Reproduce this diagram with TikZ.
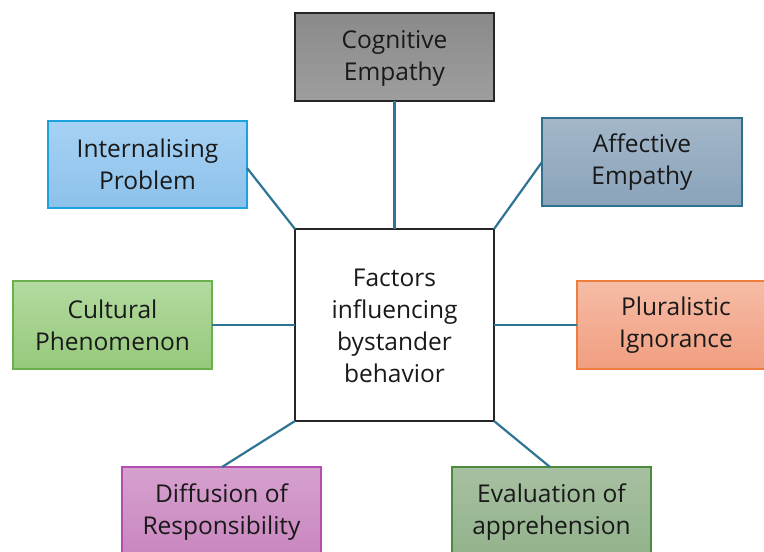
\documentclass[tikz,border=0pt]{standalone}
\usepackage{fontspec}
\setmainfont{Open Sans}
\begin{document}
\begin{tikzpicture}[x=1pt,y=-1pt,
  lbl/.style={align=center,font=\fontsize{24.5}{32}\selectfont,text=black!90},
  link/.style={draw={rgb,255:red,46;green,116;blue,148},line width=2.2pt},
  factor/.style n args={4}{shade,top color=#1,bottom color=#2,draw=#3,line width=#4}
]
\definecolor{cogT}{HTML}{8A8A8A}\definecolor{cogB}{HTML}{9E9E9E}\definecolor{cogD}{HTML}{262626}
\definecolor{intT}{HTML}{A6D2F4}\definecolor{intB}{HTML}{8DC1EA}\definecolor{intD}{HTML}{1BA3E0}
\definecolor{affT}{HTML}{A3B7C9}\definecolor{affB}{HTML}{8AA3BA}\definecolor{affD}{HTML}{2F6F8F}
\definecolor{culT}{HTML}{B3DBA0}\definecolor{culB}{HTML}{96C97C}\definecolor{culD}{HTML}{6AB04C}
\definecolor{pluT}{HTML}{F6BCA6}\definecolor{pluB}{HTML}{F19E80}\definecolor{pluD}{HTML}{EE7D3E}
\definecolor{difT}{HTML}{D6A0CE}\definecolor{difB}{HTML}{C783BD}\definecolor{difD}{HTML}{B04FAE}
\definecolor{evaT}{HTML}{A7C0A1}\definecolor{evaB}{HTML}{8FB088}\definecolor{evaD}{HTML}{4C8A3D}
\useasboundingbox (0,0) rectangle (764,552);

% factor boxes
\draw[factor={cogT}{cogB}{cogD}{1.8pt}] (295,13) rectangle (494,101);
\draw[factor={intT}{intB}{intD}{1.6pt}] (48,121) rectangle (247,208);
\draw[factor={affT}{affB}{affD}{1.6pt}] (542,118) rectangle (742,206);
\draw[factor={culT}{culB}{culD}{1.6pt}] (13,281) rectangle (212,369);
\draw[factor={pluT}{pluB}{pluD}{1.6pt}] (577,281) rectangle (766,369);
\draw[factor={difT}{difB}{difD}{1.6pt}] (122,467) rectangle (321,570);
\draw[factor={evaT}{evaB}{evaD}{1.6pt}] (452,467) rectangle (651,570);

\node[lbl] (cog) at (394.5,58) {Cognitive\\Empathy};
\node[lbl] (int) at (147.5,164) {Internalising\\Problem};
\node[lbl] (aff) at (642,162) {Affective\\Empathy};
\node[lbl] (cul) at (112.5,325) {Cultural\\Phenomenon};
\node[lbl] (plu) at (676,325) {Pluralistic\\Ignorance};
\node[lbl] (dif) at (221.5,512) {Diffusion of\\Responsibility};
\node[lbl] (eva) at (551.5,512) {Evaluation of\\apprehension};

% anchor points on the box edges
\coordinate (cogS) at (394.5,101);
\coordinate (intE) at (247,168);
\coordinate (affW) at (542,162);
\coordinate (culE) at (212,325);
\coordinate (pluW) at (577,325);
\coordinate (difN) at (222,467);
\coordinate (evaN) at (550,467);

% central box
\draw[fill=white,draw=cogD,line width=2pt] (295,229) rectangle (494,421);
\node[lbl] (hub) at (394.5,326) {Factors\\influencing\\bystander\\behavior};
\coordinate (hubN) at (394.5,229);
\coordinate (hubNW) at (295,229);
\coordinate (hubNE) at (494,229);
\coordinate (hubW) at (295,325);
\coordinate (hubE) at (494,325);
\coordinate (hubSW) at (295,421);
\coordinate (hubSE) at (494,421);

% connectors
\draw[link] (cogS) -- (hubN);
\draw[link] (intE) -- (hubNW);
\draw[link] (affW) -- (hubNE);
\draw[link] (culE) -- (hubW);
\draw[link] (pluW) -- (hubE);
\draw[link] (difN) -- (hubSW);
\draw[link] (evaN) -- (hubSE);
\end{tikzpicture}
\end{document}
